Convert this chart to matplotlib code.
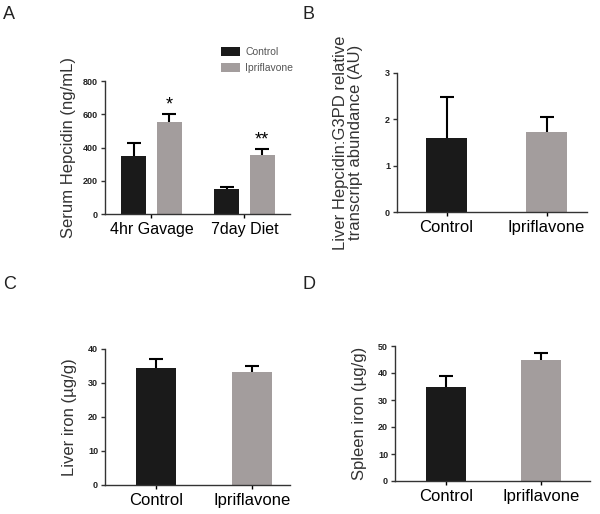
import matplotlib.pyplot as plt
import numpy as np

plt.rcParams['font.family'] = ['Liberation Sans', 'DejaVu Sans']

# Panel A: serum hepcidin
groups_a = ['4hr Gavage', '7day Diet']
ctrl_a = [350, 152]
ctrl_a_err = [80, 13]
ipri_a = [555, 355]
ipri_a_err = [45, 35]
stars_a = ['*', '**']

# Panel B: liver hepcidin transcript
cats = ['Control', 'Ipriflavone']
hep_b = [1.6, 1.73]
hep_b_err = [0.88, 0.32]

# Panel C: liver iron
liver_c = [34.5, 33.2]
liver_c_err = [2.6, 1.8]

# Panel D: spleen iron
spleen_d = [35.0, 45.0]
spleen_d_err = [3.8, 2.3]

BLACK = '#1a1a1a'
GRAY = '#a39d9d'
W, H = 600, 514


def frac(l, t, r, b):
    return [l / W, 1 - b / H, (r - l) / W, (b - t) / H]


def style(ax, xsize=12):
    for s in ['top', 'right']:
        ax.spines[s].set_visible(False)
    for s in ['left', 'bottom']:
        ax.spines[s].set_color('#333333')
        ax.spines[s].set_linewidth(1.0)
    ax.tick_params(axis='y', length=3, width=1, labelsize=6.5, pad=2, colors='#333333')
    ax.tick_params(axis='x', length=3, width=1, labelsize=xsize, pad=3)
    for t in ax.get_yticklabels():
        t.set_fontweight('bold')
        t.set_color('#222222')


def err(ax, x, y, e):
    # symmetric bars drawn under the columns, so only the upper half shows
    ax.errorbar(x, y, yerr=e, fmt='none', ecolor='black',
                elinewidth=1.5, capsize=5, capthick=1.5, zorder=1)


fig = plt.figure(figsize=(6, 5.14), dpi=100)

# A
ax = fig.add_axes(frac(105, 81, 290, 214))
x = np.arange(len(groups_a))
off, bw = 0.19, 0.27
ax.bar(x - off, ctrl_a, bw, color=BLACK, label='Control', zorder=2)
ax.bar(x + off, ipri_a, bw, color=GRAY, label='Ipriflavone', zorder=2)
err(ax, x - off, ctrl_a, ctrl_a_err)
err(ax, x + off, ipri_a, ipri_a_err)
for xi, v, e, s in zip(x + off, ipri_a, ipri_a_err, stars_a):
    ax.text(xi, v + e + 5, s, ha='center', va='bottom', fontsize=13)
ax.set_xlim(-0.5, 1.49)
ax.set_ylim(0, 800)
ax.set_yticks([0, 200, 400, 600, 800])
ax.set_xticks(x)
ax.set_xticklabels(groups_a)
ax.set_ylabel('Serum Hepcidin (ng/mL)', fontsize=12, color='#333333', labelpad=5)
style(ax, 11.5)
leg = ax.legend(loc='lower left', bbox_to_anchor=(0.6, 1.02), frameon=False,
                fontsize=7.5, handlelength=1.8, handleheight=0.9,
                handletextpad=0.5, labelspacing=0.6, borderpad=0)
for t in leg.get_texts():
    t.set_color('#555555')

# B
ax = fig.add_axes(frac(397, 73, 587, 212))
x = np.arange(len(cats))
ax.bar(x, hep_b, 0.41, color=[BLACK, GRAY], zorder=2)
err(ax, x, hep_b, hep_b_err)
ax.set_xlim(-0.495, 1.405)
ax.set_ylim(0, 3)
ax.set_yticks([0, 1, 2, 3])
ax.set_xticks(x)
ax.set_xticklabels(cats)
ax.set_ylabel('Liver Hepcidin:G3PD relative\ntranscript abundance (AU)',
              fontsize=12, color='#333333', labelpad=16, linespacing=1.0)
style(ax)

# C
ax = fig.add_axes(frac(105, 349, 290, 485))
ax.bar(x, liver_c, 0.42, color=[BLACK, GRAY], zorder=2)
err(ax, x, liver_c, liver_c_err)
ax.set_xlim(-0.53, 1.40)
ax.set_ylim(0, 40)
ax.set_yticks([0, 10, 20, 30, 40])
ax.set_xticks(x)
ax.set_xticklabels(cats)
ax.set_ylabel('Liver iron (\u00b5g/g)', fontsize=12, color='#333333', labelpad=8)
style(ax)

# D
ax = fig.add_axes(frac(395, 346, 590, 481))
ax.bar(x, spleen_d, 0.42, color=[BLACK, GRAY], zorder=2)
err(ax, x, spleen_d, spleen_d_err)
ax.set_xlim(-0.53, 1.51)
ax.set_ylim(0, 50)
ax.set_yticks([0, 10, 20, 30, 40, 50])
ax.set_xticks(x)
ax.set_xticklabels(cats)
ax.set_ylabel('Spleen iron (\u00b5g/g)', fontsize=12, color='#333333', labelpad=8)
style(ax)

for lab, px, py in [('A', 3, 6), ('B', 302, 6), ('C', 3, 276), ('D', 302, 276)]:
    fig.text(px / W, 1 - py / H, lab, fontsize=13, va='top', ha='left', color='#222222')

fig.savefig('out.png', dpi=100)
